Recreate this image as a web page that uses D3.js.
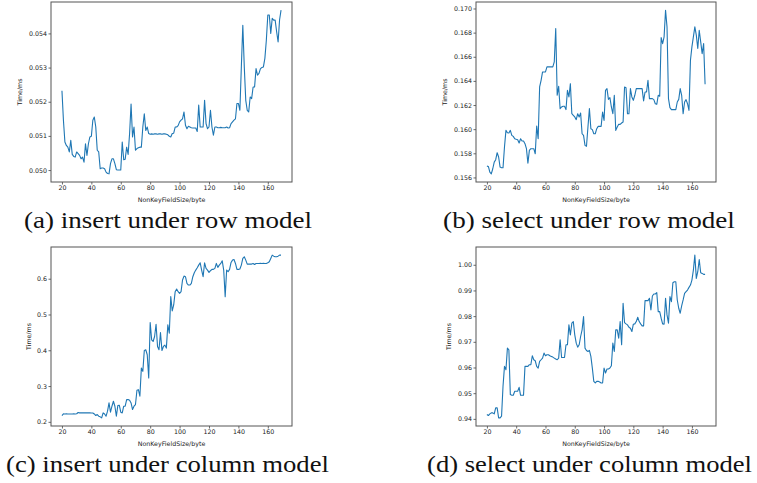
<!DOCTYPE html>
<html>
<head>
<meta charset="utf-8">
<script src="https://cdn.jsdelivr.net/npm/d3@7"></script>
<style>
  body { margin: 0; background: #fff; }
  svg { display: block; }
</style>
</head>
<body>
<svg id="chart" width="757" height="483"></svg>
<script>
// NonKeyFieldSize in bytes, one sample per byte
const sizes = d3.range(20, 170);
const xTicks = [20, 40, 60, 80, 100, 120, 140, 160];

// (a) insert under row model
const insertRow = [
  0.05232, 0.05146, 0.05082, 0.05072, 0.05067, 0.05053, 0.05087, 0.05046, 0.05040, 0.05038,
  0.05053, 0.05048, 0.05043, 0.05033, 0.05038, 0.05023, 0.05077, 0.05043, 0.05077, 0.05097,
  0.05099, 0.05146, 0.05155, 0.05126, 0.05058, 0.05053, 0.05004, 0.05006, 0.05006, 0.05004,
  0.04994, 0.04990, 0.04989, 0.05019, 0.05033, 0.05033, 0.05019, 0.05001, 0.05000, 0.05000,
  0.05000, 0.05082, 0.05030, 0.05032, 0.05067, 0.05046, 0.05107, 0.05193, 0.05097, 0.05126,
  0.05058, 0.05063, 0.05065, 0.05067, 0.05067, 0.05126, 0.05165, 0.05116, 0.05126, 0.05107,
  0.05105, 0.05106, 0.05105, 0.05106, 0.05106, 0.05105, 0.05106, 0.05106, 0.05105, 0.05106,
  0.05106, 0.05105, 0.05103, 0.05099, 0.05097, 0.05107, 0.05108, 0.05126, 0.05126, 0.05130,
  0.05141, 0.05146, 0.05150, 0.05170, 0.05131, 0.05121, 0.05128, 0.05126, 0.05124, 0.05123,
  0.05123, 0.05123, 0.05113, 0.05190, 0.05126, 0.05126, 0.05126, 0.05204, 0.05136, 0.05121,
  0.05126, 0.05175, 0.05126, 0.05102, 0.05126, 0.05126, 0.05124, 0.05124, 0.05125, 0.05124,
  0.05124, 0.05124, 0.05126, 0.05123, 0.05124, 0.05136, 0.05141, 0.05146, 0.05150, 0.05195,
  0.05195, 0.05175, 0.05302, 0.05424, 0.05302, 0.05204, 0.05175, 0.05170, 0.05214, 0.05209,
  0.05243, 0.05243, 0.05297, 0.05278, 0.05283, 0.05297, 0.05300, 0.05302, 0.05327, 0.05380,
  0.05454, 0.05454, 0.05400, 0.05444, 0.05439, 0.05439, 0.05405, 0.05375, 0.05440, 0.05468
];

// (b) select under row model
const selectRow = [
  0.15694, 0.15691, 0.15644, 0.15630, 0.15672, 0.15727, 0.15747, 0.15805, 0.15769, 0.15686,
  0.15680, 0.15680, 0.15852, 0.15990, 0.15970, 0.15968, 0.15990, 0.15949, 0.15940, 0.15921,
  0.15916, 0.15913, 0.15885, 0.15921, 0.15902, 0.15902, 0.15880, 0.15838, 0.15719, 0.15824,
  0.15838, 0.15838, 0.15838, 0.15796, 0.16026, 0.15921, 0.16350, 0.16405, 0.16474, 0.16474,
  0.16474, 0.16516, 0.16516, 0.16516, 0.16516, 0.16516, 0.16557, 0.16834, 0.16281, 0.16355,
  0.16170, 0.16184, 0.16190, 0.16190, 0.16162, 0.16322, 0.16267, 0.16377, 0.16128, 0.16115,
  0.16101, 0.16079, 0.16128, 0.16101, 0.16134, 0.15962, 0.15948, 0.15866, 0.15858, 0.16018,
  0.16170, 0.16004, 0.15996, 0.15962, 0.15962, 0.16004, 0.16023, 0.16023, 0.16023, 0.16142,
  0.16073, 0.16322, 0.16336, 0.16247, 0.16261, 0.16184, 0.16128, 0.16281, 0.15990, 0.16018,
  0.16040, 0.16040, 0.16051, 0.16059, 0.16350, 0.16344, 0.16128, 0.16128, 0.16336, 0.16267,
  0.16239, 0.16281, 0.16336, 0.16336, 0.16336, 0.16336, 0.16336, 0.16234, 0.16308, 0.16308,
  0.16405, 0.16253, 0.16253, 0.16253, 0.16245, 0.16211, 0.16206, 0.16281, 0.16273, 0.16759,
  0.16709, 0.16765, 0.16986, 0.16848, 0.16253, 0.16178, 0.16162, 0.16162, 0.16162, 0.16162,
  0.16225, 0.16247, 0.16336, 0.16281, 0.16128, 0.16225, 0.16245, 0.16211, 0.16156, 0.16571,
  0.16682, 0.16765, 0.16848, 0.16779, 0.16668, 0.16820, 0.16723, 0.16626, 0.16709, 0.16372
];

// (c) insert under column model
const insertCol = [
  0.2176, 0.2223, 0.2220, 0.2222, 0.2220, 0.2221, 0.2220, 0.2220, 0.2222, 0.2221,
  0.2225, 0.2260, 0.2251, 0.2253, 0.2250, 0.2251, 0.2252, 0.2250, 0.2251, 0.2250,
  0.2249, 0.2248, 0.2220, 0.2176, 0.2204, 0.2158, 0.2139, 0.2111, 0.2250, 0.2220,
  0.2158, 0.2297, 0.2529, 0.2269, 0.2436, 0.2575, 0.2436, 0.2158, 0.2455, 0.2464,
  0.2269, 0.2250, 0.2436, 0.2436, 0.2622, 0.2622, 0.2603, 0.2529, 0.2343, 0.2436,
  0.2483, 0.2882, 0.2900, 0.2715, 0.3503, 0.3411, 0.3995, 0.4014, 0.3875, 0.3225,
  0.4775, 0.4292, 0.4246, 0.4385, 0.4729, 0.4107, 0.4014, 0.4497, 0.3995, 0.4107,
  0.4144, 0.4060, 0.4710, 0.4478, 0.5499, 0.5100, 0.5267, 0.5638, 0.5712, 0.5638,
  0.5590, 0.5638, 0.5963, 0.6074, 0.6056, 0.5870, 0.5824, 0.5824, 0.5870, 0.6056,
  0.6167, 0.6241, 0.6306, 0.6380, 0.6445, 0.6241, 0.6056, 0.6445, 0.6288, 0.6241,
  0.6176, 0.6223, 0.6260, 0.6260, 0.6288, 0.6427, 0.6316, 0.6380, 0.6427, 0.6501,
  0.6241, 0.5499, 0.6241, 0.6195, 0.6260, 0.6455, 0.6520, 0.6538, 0.6427, 0.6260,
  0.6260, 0.6270, 0.6380, 0.6566, 0.6613, 0.6520, 0.6408, 0.6408, 0.6410, 0.6408,
  0.6427, 0.6399, 0.6427, 0.6427, 0.6427, 0.6430, 0.6427, 0.6430, 0.6427, 0.6427,
  0.6445, 0.6473, 0.6566, 0.6659, 0.6631, 0.6613, 0.6613, 0.6631, 0.6659, 0.6659
];

// (d) select under column model
const selectCol = [
  0.94168, 0.94129, 0.94194, 0.94233, 0.94233, 0.94194, 0.94427, 0.94427, 0.94039, 0.94039,
  0.94103, 0.95267, 0.96043, 0.95914, 0.96754, 0.96690, 0.94944, 0.94918, 0.94918, 0.95073,
  0.95073, 0.95073, 0.95228, 0.94918, 0.94918, 0.94918, 0.96043, 0.96043, 0.96043, 0.96108,
  0.96108, 0.96457, 0.96302, 0.96263, 0.96043, 0.95978, 0.96237, 0.96302, 0.96366, 0.96560,
  0.96457, 0.96496, 0.96496, 0.96457, 0.96431, 0.96405, 0.96366, 0.96328, 0.96302, 0.96366,
  0.97078, 0.96392, 0.96392, 0.96392, 0.96884, 0.96884, 0.97660, 0.97272, 0.97724, 0.97789,
  0.97272, 0.96948, 0.96793, 0.96884, 0.97207, 0.97466, 0.97983, 0.96754, 0.96664, 0.96625,
  0.96664, 0.96431, 0.95978, 0.95461, 0.95397, 0.95461, 0.95461, 0.95435, 0.95397, 0.95397,
  0.95978, 0.95785, 0.95940, 0.95940, 0.95978, 0.96069, 0.96948, 0.96625, 0.97466, 0.97466,
  0.97142, 0.97789, 0.96884, 0.98500, 0.97750, 0.97698, 0.97660, 0.97569, 0.97530, 0.97401,
  0.97686, 0.97698, 0.97789, 0.97957, 0.97789, 0.97698, 0.97621, 0.97621, 0.98604, 0.98604,
  0.98604, 0.98694, 0.98242, 0.98785, 0.98862, 0.98862, 0.98914, 0.98177, 0.98177, 0.97918,
  0.97698, 0.97686, 0.98694, 0.98048, 0.97724, 0.98759, 0.98565, 0.99300, 0.99341, 0.99341,
  0.98629, 0.98306, 0.98112, 0.98397, 0.98629, 0.98888, 0.98953, 0.99017, 0.99120, 0.99211,
  0.99405, 0.99793, 1.00375, 0.99470, 0.99729, 1.00207, 0.99690, 0.99664, 0.99625, 0.99625
];

const yTicksA = [0.050, 0.051, 0.052, 0.053, 0.054];
const yTicksB = [0.156, 0.158, 0.160, 0.162, 0.164, 0.166, 0.168, 0.170];
const yTicksC = [0.2, 0.3, 0.4, 0.5, 0.6];
const yTicksD = [0.94, 0.95, 0.96, 0.97, 0.98, 0.99, 1.00];

const captions = [
  "(a) insert under row model",
  "(b) select under row model",
  "(c) insert under column model",
  "(d) select under column model"
];

const svg = d3.select("#chart");

/**
 * One subplot: framed axes, a line and a caption underneath.
 */
class Panel {
    constructor(parent, box) {
        this.box = box;
        this.base = parent.append("g");
    }

    /**
     * Matplotlib-style 5% margins around the data.
     */
    defineScales(xs, ys) {
        const b = this.box;
        const [x0, x1] = d3.extent(xs);
        const [y0, y1] = d3.extent(ys);
        const mx = (x1 - x0) * 0.05, my = (y1 - y0) * 0.05;
        this.x = d3.scaleLinear().domain([x0 - mx, x1 + mx]).range([b.left, b.right]);
        this.y = d3.scaleLinear().domain([y0 - my, y1 + my]).range([b.bottom, b.top]);
    }

    drawAxes(yTicks, yFormat) {
        const b = this.box;
        const xAxis = d3.axisBottom(this.x).tickValues(xTicks).tickSize(2.5).tickPadding(1.5);
        const yAxis = d3.axisLeft(this.y).tickValues(yTicks).tickFormat(d3.format(yFormat))
            .tickSize(2.5).tickPadding(1.5);

        const gx = this.base.append("g")
            .attr("transform", `translate(0, ${b.bottom})`)
            .call(xAxis);
        const gy = this.base.append("g")
            .attr("transform", `translate(${b.left}, 0)`)
            .call(yAxis);

        [gx, gy].forEach(g => {
            g.select(".domain").remove();
            g.selectAll(".tick line").attr("stroke", "#444").attr("stroke-width", 0.8);
            g.selectAll(".tick text")
                .attr("fill", "#222")
                .style("font-family", '"DejaVu Sans"')
                .attr("font-size", "6.3px");
        });

        this.base.append("rect")
            .attr("x", b.left)
            .attr("y", b.top)
            .attr("width", b.right - b.left)
            .attr("height", b.bottom - b.top)
            .attr("fill", "none")
            .attr("stroke", "#555")
            .attr("stroke-width", 1);
    }

    drawLabels(yLabelX) {
        const b = this.box;
        this.base.append("text")
            .attr("x", (b.left + b.right) / 2)
            .attr("y", b.bottom + 19.5)
            .attr("text-anchor", "middle")
            .style("font-family", '"DejaVu Sans"')
            .attr("font-size", "6.3px")
            .attr("fill", "#222")
            .text("NonKeyFieldSize/byte");

        this.base.append("text")
            .attr("transform", `translate(${yLabelX}, ${(b.top + b.bottom) / 2}) rotate(-90)`)
            .attr("text-anchor", "middle")
            .attr("dy", "0.35em")
            .style("font-family", '"DejaVu Sans"')
            .attr("font-size", "6.3px")
            .attr("fill", "#222")
            .text("Time/ms");
    }

    drawLine(xs, ys) {
        const line = d3.line()
            .x((d, i) => this.x(xs[i]))
            .y(d => this.y(d));
        this.base.append("path")
            .datum(ys)
            .attr("d", line)
            .attr("fill", "none")
            .attr("stroke", "#1f77b4")
            .attr("stroke-width", 1.1)
            .attr("stroke-linejoin", "round");
    }

    /**
     * Serif caption, widened with a horizontal scale to the measured width.
     */
    drawCaption(text, cx, baseline, width) {
        const t = this.base.append("text")
            .attr("x", 0)
            .attr("y", 0)
            .attr("text-anchor", "middle")
            .attr("font-size", "24px")
            .style("font-family", '"Liberation Serif"')
            .attr("fill", "#111")
            .text(text);
        const natural = t.node().getComputedTextLength();
        const sx = natural > 0 ? width / natural : 1;
        t.attr("transform", `translate(${cx}, ${baseline}) scale(${sx}, 1)`);
    }
}

const layout = [
    {box: {left: 51, right: 292, top: 2, bottom: 182}, ys: insertRow, ticks: yTicksA, fmt: ".3f",
     yLabelX: 20, cap: {x: 168, y: 227.5, w: 288}},
    {box: {left: 476, right: 716, top: 2, bottom: 182}, ys: selectRow, ticks: yTicksB, fmt: ".3f",
     yLabelX: 445, cap: {x: 589, y: 227.5, w: 292}},
    {box: {left: 51, right: 292, top: 247, bottom: 426}, ys: insertCol, ticks: yTicksC, fmt: ".1f",
     yLabelX: 29, cap: {x: 167.5, y: 472, w: 323}},
    {box: {left: 476, right: 716, top: 247, bottom: 426}, ys: selectCol, ticks: yTicksD, fmt: ".2f",
     yLabelX: 449, cap: {x: 589.5, y: 472, w: 325}}
];

layout.forEach((p, i) => {
    const panel = new Panel(svg, p.box);
    panel.defineScales(sizes, p.ys);
    panel.drawAxes(p.ticks, p.fmt);
    panel.drawLabels(p.yLabelX);
    panel.drawLine(sizes, p.ys);
    panel.drawCaption(captions[i], p.cap.x, p.cap.y, p.cap.w);
});
</script>
</body>
</html>
